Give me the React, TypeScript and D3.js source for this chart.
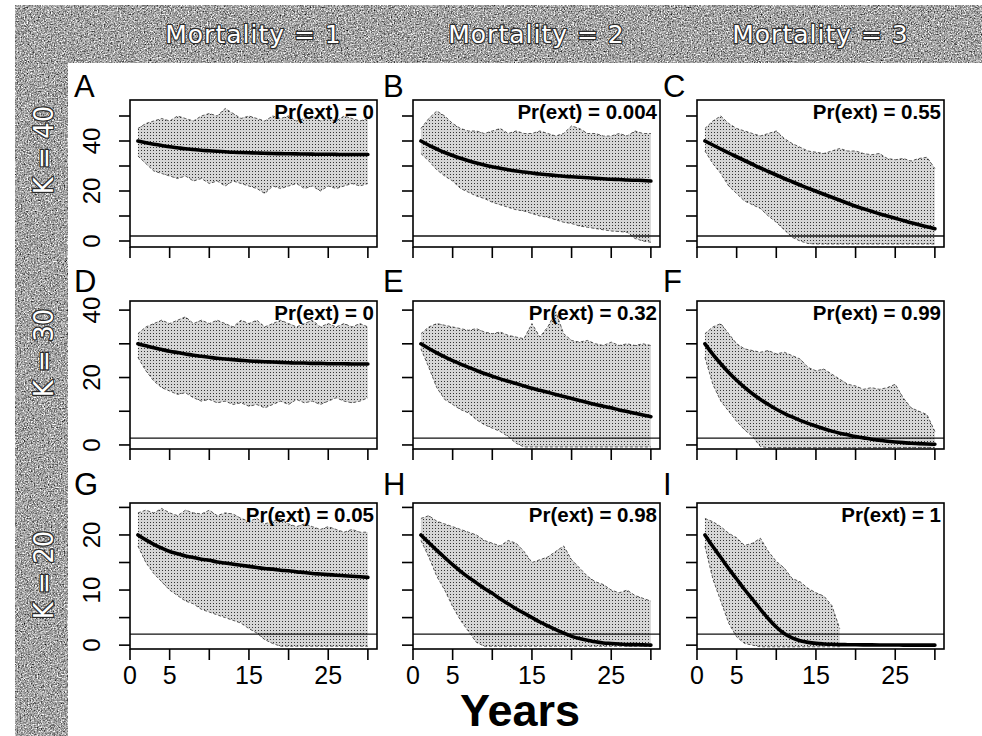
import React from "react";
import * as d3 from "d3";

// ---- data ----
const years = [1, 2, 3, 4, 5, 6, 7, 8, 9, 10, 11, 12, 13, 14, 15, 16, 17, 18, 19, 20, 21, 22, 23, 24, 25, 26, 27, 28, 29, 30];

const mortalityLabels = ["Mortality = 1", "Mortality = 2", "Mortality = 3"];
const kLabels = ["K = 40", "K = 30", "K = 20"];
const panelLetters = ["A", "B", "C", "D", "E", "F", "G", "H", "I"];
const prExt = ["0", "0.004", "0.55", "0", "0.32", "0.99", "0.05", "0.98", "1"];

const xTicks = [0, 5, 10, 15, 20, 25, 30];
const xTickLabels = [0, 5, 15, 25];
const yTicksByRow = [[0, 10, 20, 30, 40, 50], [0, 10, 20, 30, 40], [0, 5, 10, 15, 20, 25]];
const yTickLabelsByRow = [[0, 20, 40], [0, 20, 40], [0, 10, 20]];
const yDomains = [[-2.4, 56.4], [-1.2, 42.7], [-0.7, 25.8]];
const extinctionLine = 2;

// K = 40
const meanA = [40, 39.3, 38.7, 38.2, 37.7, 37.3, 36.9, 36.6, 36.3, 36.1, 35.9, 35.7, 35.5, 35.4, 35.3, 35.2, 35.1, 35.0, 34.95, 34.9, 34.85, 34.8, 34.75, 34.7, 34.7, 34.65, 34.6, 34.6, 34.6, 34.6];
const upperA = [45, 47, 48, 49, 48, 50, 49, 48, 50, 51, 50, 53, 51, 49, 50, 49, 48, 50, 49, 50, 48, 49, 50, 48, 49, 48, 50, 49, 48, 49];
const lowerA = [34, 31, 28, 27, 26, 25, 26, 24, 25, 23, 24, 22, 24, 23, 22, 21, 19, 22, 21, 22, 23, 21, 22, 20, 22, 21, 22, 23, 22, 23];

const meanB = [40, 38.3, 36.8, 35.4, 34.2, 33.1, 32.1, 31.2, 30.4, 29.7, 29.1, 28.5, 28.0, 27.6, 27.2, 26.8, 26.5, 26.2, 25.9, 25.7, 25.5, 25.3, 25.1, 24.9, 24.7, 24.6, 24.4, 24.3, 24.2, 24.0];
const upperB = [45, 49, 52, 50, 47, 45, 44, 44, 43, 44, 45, 43, 44, 43, 43, 44, 43, 42, 43, 46, 45, 43, 43, 42, 42, 43, 42, 44, 43, 43];
const lowerB = [35, 32, 28.5, 26, 24, 21, 19.5, 18, 17, 15.5, 14.5, 13.5, 12.5, 12, 11, 10, 9.5, 8.5, 7.5, 7, 6, 5.5, 5, 4.5, 4, 3.8, 3.5, 1, 0, -0.5];

const meanC = [40, 38.4, 36.8, 35.2, 33.7, 32.2, 30.7, 29.2, 27.8, 26.4, 25.0, 23.7, 22.4, 21.1, 19.9, 18.7, 17.5, 16.3, 15.1, 13.9, 12.9, 11.9, 10.9, 10.0, 9.1, 8.2, 7.3, 6.5, 5.7, 4.9];
const upperC = [45, 48, 50, 47, 45, 44, 43, 42, 43, 44, 41, 39, 37.5, 36, 35.5, 35, 36, 37, 36, 36, 35, 34.5, 35, 33, 32.5, 33, 32, 33, 33.5, 29];
const lowerC = [36, 31, 27, 22, 19, 16, 14.5, 13, 10, 7.5, 4.5, 1.5, 0, -1, -1.2, -1.2, -1.2, -1.2, -1.2, -1.2, -1.2, -1.2, -1.2, -1.2, -1.2, -1.2, -1.2, -1.2, -1.2, -1.2];

// K = 30
const meanD = [30, 29.4, 28.8, 28.3, 27.8, 27.4, 27.0, 26.6, 26.3, 26.0, 25.7, 25.5, 25.3, 25.1, 24.9, 24.8, 24.7, 24.6, 24.5, 24.4, 24.3, 24.3, 24.2, 24.2, 24.1, 24.1, 24.1, 24.0, 24.0, 24.0];
const upperD = [33, 35, 36, 37, 36, 37, 38, 36, 37, 36, 37, 36, 35, 37, 36, 37, 35, 36, 37, 36, 35, 36, 37, 35, 36, 35, 36, 35, 36, 35];
const lowerD = [26, 22, 19, 17, 16, 15, 15.5, 14, 13, 13.5, 12.5, 13, 12, 12.5, 11.5, 12, 11, 12, 13, 12, 13.5, 12.5, 13, 12, 13, 14, 13, 12.5, 13, 14];

const meanE = [30, 28.6, 27.3, 26.1, 25.0, 24.0, 23.0, 22.1, 21.2, 20.4, 19.6, 18.9, 18.2, 17.5, 16.8, 16.2, 15.6, 15.0, 14.4, 13.8, 13.2, 12.6, 12.0, 11.5, 11.0, 10.4, 9.9, 9.4, 8.9, 8.4];
const upperE = [33, 35, 36, 35.5, 35, 34.5, 34, 34.5, 33.5, 33, 33.5, 32.5, 32, 31.5, 36, 32, 35, 39.5, 33, 31, 30.5, 31, 30, 29.5, 30.5, 29.5, 30, 29.5, 30, 29.5];
const lowerE = [28.5, 23, 17, 13.5, 12, 10.5, 9.5, 7.5, 6, 5, 4, 2.5, 0.5, -0.6, -0.6, -0.6, -0.6, -0.6, -0.6, -0.6, -0.6, -0.6, -0.6, -0.6, -0.6, -0.6, -0.6, -0.6, -0.6, -0.6];

const meanF = [30, 26.9, 24.1, 21.5, 19.2, 17.1, 15.2, 13.5, 12.0, 10.6, 9.4, 8.3, 7.3, 6.4, 5.6, 4.8, 4.1, 3.5, 3.0, 2.5, 2.1, 1.7, 1.4, 1.1, 0.9, 0.7, 0.5, 0.4, 0.3, 0.2];
const upperF = [33, 35, 36, 33, 30, 28.5, 28, 27.5, 28, 27, 27.5, 26.5, 25.5, 23, 22, 22.5, 21, 19.5, 18, 17.5, 16.5, 17, 16.5, 17, 18, 14, 11, 10, 9, 4];
const lowerF = [26, 18, 13, 10, 7, 4.5, 2.5, -0.5, -0.8, -0.8, -0.8, -0.8, -0.8, -0.8, -0.8, -0.8, -0.8, -0.8, -0.8, -0.8, -0.8, -0.8, -0.8, -0.8, -0.8, -0.8, -0.8, -0.8, -0.8, -0.8];

// K = 20
const meanG = [20, 19.1, 18.3, 17.6, 17.0, 16.6, 16.2, 15.9, 15.6, 15.4, 15.1, 14.9, 14.7, 14.5, 14.3, 14.1, 13.9, 13.8, 13.6, 13.5, 13.3, 13.2, 13.0, 12.9, 12.8, 12.7, 12.6, 12.5, 12.4, 12.3];
const upperG = [24, 24.5, 24, 24.8, 24, 23.5, 24.5, 24, 23.8, 24.5, 23.5, 24, 23.8, 23, 22.5, 23, 22, 22.5, 23, 22, 21.5, 22, 21.5, 21, 21.5, 21, 20.5, 21, 20.5, 20.5];
const lowerG = [18, 15, 13, 11.5, 10, 9, 8, 7.5, 6.5, 6, 5.5, 5, 4.5, 4, 3, 2.2, 1, 0.3, -0.2, -0.2, -0.2, -0.2, -0.2, -0.2, -0.2, -0.2, -0.2, -0.2, -0.2, -0.2];

const meanH = [20, 18.6, 17.2, 15.9, 14.6, 13.4, 12.3, 11.3, 10.3, 9.4, 8.4, 7.5, 6.6, 5.8, 5.0, 4.2, 3.5, 2.8, 2.2, 1.6, 1.2, 0.9, 0.6, 0.4, 0.3, 0.2, 0.1, 0.1, 0.05, 0];
const upperH = [23, 23.5, 22.5, 22, 21.5, 21, 20.5, 20, 19, 18.5, 18, 19, 18.5, 17, 15, 15.5, 16, 17, 18, 15.5, 14, 12.5, 11.5, 11, 10, 9.5, 10, 9, 8.5, 8];
const lowerH = [19, 16, 12.5, 10, 7, 4.5, 2.5, 0.5, -0.2, -0.2, -0.2, -0.2, -0.2, -0.2, -0.2, -0.2, -0.2, -0.2, -0.2, -0.2, -0.2, -0.2, -0.2, -0.2, -0.2, -0.2, -0.2, -0.2, -0.2, -0.2];

const meanI = [20, 17.9, 15.9, 13.9, 12.0, 10.1, 8.3, 6.5, 4.8, 3.3, 2.1, 1.3, 0.8, 0.5, 0.32, 0.22, 0.15, 0.1, 0.08, 0.06, 0.05, 0.04, 0.03, 0.02, 0.02, 0.01, 0.01, 0, 0, 0];
const upperI = [23, 22.4, 21.5, 20.3, 19.5, 18.1, 18.5, 19.4, 17, 15.2, 14, 12.1, 11.5, 10.3, 9.5, 8.9, 7.2, 3, null, null, null, null, null, null, null, null, null, null, null, null];
const lowerI = [18, 12, 8, 4, 1.5, 0.3, 0, -0.3, -0.3, -0.3, -0.3, -0.3, -0.3, -0.3, -0.3, -0.3, -0.3, -0.3, null, null, null, null, null, null, null, null, null, null, null, null];

const means = [meanA, meanB, meanC, meanD, meanE, meanF, meanG, meanH, meanI];
const uppers = [upperA, upperB, upperC, upperD, upperE, upperF, upperG, upperH, upperI];
const lowers = [lowerA, lowerB, lowerC, lowerD, lowerE, lowerF, lowerG, lowerH, lowerI];

// ---- layout ----
const W = 982;
const H = 736;
const colLeft = [130, 413, 697];
const panelW = 247;
const rowTop = [100, 301, 503];
const rowBottom = [247, 449, 649];
const xDomain = [0, 31.15];
const letterX = [74, 383, 663];
const letterY = [97, 292, 495];
const kCenterY = [150, 353, 575];
const FONT = "'Liberation Sans', Arial, Helvetica, sans-serif";

function Panel({ idx }: { idx: number }) {
  const r = Math.floor(idx / 3);
  const c = idx % 3;
  const x = d3.scaleLinear().domain(xDomain).range([colLeft[c], colLeft[c] + panelW]);
  const y = d3.scaleLinear().domain(yDomains[r]).range([rowBottom[r], rowTop[r]]);

  const pts = years.map((yr, k) => ({ yr, hi: uppers[idx][k], lo: lowers[idx][k], m: means[idx][k] }));
  const band = d3.area<any>()
    .defined((d) => d.hi != null && d.lo != null)
    .x((d) => x(d.yr))
    .y0((d) => y(d.lo))
    .y1((d) => y(d.hi));
  const upperLine = d3.line<any>().defined((d) => d.hi != null).x((d) => x(d.yr)).y((d) => y(d.hi));
  const lowerLine = d3.line<any>().defined((d) => d.lo != null).x((d) => x(d.yr)).y((d) => y(d.lo));
  const meanLine = d3.line<any>().curve(d3.curveMonotoneX).x((d) => x(d.yr)).y((d) => y(d.m));

  const [x0, x1] = x.range();
  const yb = rowBottom[r];
  const yt = rowTop[r];

  return (
    <g>
      <path d={band(pts) || ""} fill="url(#stipple)" stroke="none" />
      <path d={upperLine(pts) || ""} fill="none" stroke="#333" strokeWidth={0.8} strokeDasharray="3 2" />
      <path d={lowerLine(pts) || ""} fill="none" stroke="#333" strokeWidth={0.8} strokeDasharray="3 2" />
      <line x1={x0} x2={x1} y1={y(extinctionLine)} y2={y(extinctionLine)} stroke="#111" strokeWidth={1.3} />
      <path d={meanLine(pts) || ""} fill="none" stroke="#000" strokeWidth={3.6} strokeLinecap="round" />
      <rect x={x0} y={yt} width={x1 - x0} height={yb - yt} fill="none" stroke="#000" strokeWidth={1.6} />
      {xTicks.map((t) => (
        <line key={"xt" + t} x1={x(t)} x2={x(t)} y1={yb} y2={yb + 11} stroke="#000" strokeWidth={1.6} />
      ))}
      {yTicksByRow[r].map((t) => (
        <line key={"yt" + t} x1={x0 - 11} x2={x0} y1={y(t)} y2={y(t)} stroke="#000" strokeWidth={1.6} />
      ))}
      {c === 0 &&
        yTickLabelsByRow[r].map((t) => (
          <text key={"yl" + t} transform={`translate(${x0 - 30},${y(t)}) rotate(-90)`} textAnchor="middle" fontSize={24} fill="#000">
            {t}
          </text>
        ))}
      {r === 2 &&
        xTickLabels.map((t) => (
          <text key={"xl" + t} x={x(t)} y={684} textAnchor="middle" fontSize={25} fill="#000">
            {t}
          </text>
        ))}
      <text x={x1 - 3} y={yt + 19} textAnchor="end" fontSize={20.5} fontWeight="bold" fill="#000">
        {`Pr(ext) = ${prExt[idx]}`}
      </text>
      <text x={letterX[c]} y={letterY[r]} fontSize={31} fill="#000">
        {panelLetters[idx]}
      </text>
    </g>
  );
}

export default function App() {
  return (
    <div style={{ position: "absolute", left: 0, top: 0 }}>
      <svg width={W} height={H} style={{ display: "block", background: "#fff" }} fontFamily={FONT}>
        <defs>
          <filter id="halftone" x="0" y="0" width="100%" height="100%" colorInterpolationFilters="sRGB">
            <feTurbulence type="fractalNoise" baseFrequency="0.7" numOctaves={2} seed={7} />
            <feColorMatrix type="matrix" values="0.33 0.33 0.33 0 0  0.33 0.33 0.33 0 0  0.33 0.33 0.33 0 0  0 0 0 0 1" />
            <feComponentTransfer>
              <feFuncR type="linear" slope={2.4} intercept={-0.55} />
              <feFuncG type="linear" slope={2.4} intercept={-0.55} />
              <feFuncB type="linear" slope={2.4} intercept={-0.55} />
            </feComponentTransfer>
          </filter>
          <pattern id="stipple" width={3} height={3} patternUnits="userSpaceOnUse">
            <rect width={3} height={3} fill="#d6d6d6" />
            <rect x={0} y={0} width={1} height={1} fill="#333" />
          </pattern>
        </defs>

        {/* strip backgrounds */}
        <rect x={15} y={5} width={W - 15} height={58} fill="#999" filter="url(#halftone)" />
        <rect x={15} y={63} width={53} height={H - 63} fill="#999" filter="url(#halftone)" />

        {mortalityLabels.map((m, i) => (
          <text key={m} x={colLeft[i] + panelW / 2} y={43} textAnchor="middle" fontSize={25}
            fontFamily="'DejaVu Sans', sans-serif" letterSpacing={1} fill="#ffffff" stroke="#2a2a2a"
            strokeWidth={2.4} paintOrder="stroke" strokeLinejoin="round">
            {m}
          </text>
        ))}
        {kLabels.map((k, i) => (
          <text key={k} transform={`translate(53,${kCenterY[i]}) rotate(-90)`} textAnchor="middle" fontSize={26}
            fontFamily="'DejaVu Sans', sans-serif" fill="#ffffff" stroke="#2a2a2a"
            strokeWidth={2.4} paintOrder="stroke" strokeLinejoin="round">
            {k}
          </text>
        ))}

        {panelLetters.map((_, i) => (
          <Panel key={i} idx={i} />
        ))}

        <text x={520} y={726} textAnchor="middle" fontSize={45} fontWeight="bold" fill="#000">
          Years
        </text>
      </svg>
    </div>
  );
}
